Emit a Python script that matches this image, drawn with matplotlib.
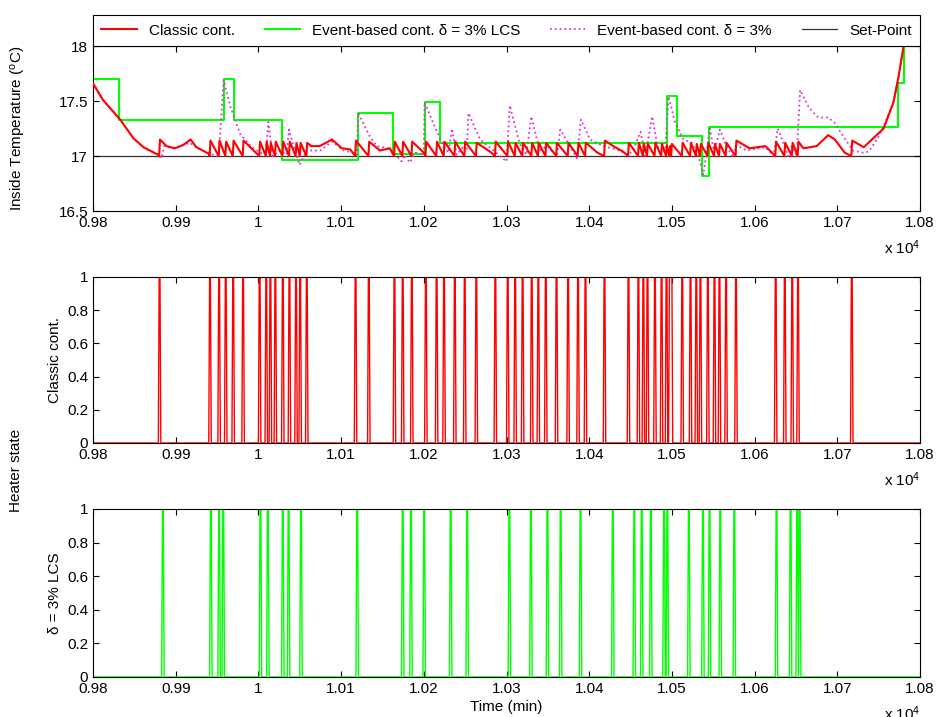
import numpy as np
import matplotlib.pyplot as plt
from matplotlib.ticker import FuncFormatter

plt.rcParams['font.family'] = ['Liberation Sans', 'DejaVu Sans']
plt.rcParams['font.size'] = 11
plt.rcParams['mathtext.default'] = 'regular'

# Simulation window (min) and temperature set-point (degC)
t_start, t_end = 9800, 10800
setpoint = 17.0

# Inside temperature under the classic on/off controller: (time, degC)
classic_temp = [
    (9800, 17.66), (9812, 17.51), (9833, 17.33), (9849, 17.16), (9861, 17.08), (9879, 17.01),
    (9880, 17.00), (9881, 17.15), (9889, 17.09), (9899, 17.07), (9909, 17.10), (9918, 17.15),
    (9925, 17.08), (9940, 17.02), (9941, 17.00), (9942, 17.14),
    (9952, 17.00), (9953, 17.14), (9960, 17.00), (9961, 17.13), (9969, 17.00), (9970, 17.14),
    (9981, 17.00), (9982, 17.14), (10001, 17.00), (10002, 17.13), (10009, 17.00), (10010, 17.13),
    (10014, 17.00), (10015, 17.12), (10020, 17.00), (10021, 17.13), (10029, 17.00), (10030, 17.13),
    (10037, 17.00), (10038, 17.13), (10045, 17.00), (10046, 17.12), (10050, 17.00), (10051, 17.12),
    (10058, 17.00), (10059, 17.12), (10064, 17.09), (10074, 17.09), (10089, 17.15), (10101, 17.07),
    (10111, 17.06), (10117, 17.00), (10118, 17.14), (10133, 17.00), (10134, 17.13), (10147, 17.05),
    (10159, 17.07), (10164, 17.00), (10165, 17.13), (10174, 17.00), (10175, 17.13), (10185, 17.00),
    (10186, 17.13), (10200, 17.03), (10202, 17.00), (10203, 17.13), (10215, 17.00), (10216, 17.13),
    (10224, 17.00), (10225, 17.13), (10237, 17.00), (10238, 17.13), (10249, 17.00), (10250, 17.13),
    (10263, 17.00), (10264, 17.12), (10280, 17.04), (10286, 17.00), (10287, 17.13), (10301, 17.00),
    (10302, 17.13), (10310, 17.00), (10311, 17.12), (10319, 17.00), (10320, 17.12), (10330, 17.00),
    (10331, 17.12), (10338, 17.00), (10339, 17.12), (10347, 17.00), (10348, 17.12), (10360, 17.00),
    (10361, 17.12), (10374, 17.00), (10375, 17.12), (10386, 17.00), (10387, 17.12), (10395, 17.00),
    (10396, 17.12), (10410, 17.03), (10418, 17.00), (10419, 17.14), (10429, 17.09), (10441, 17.04),
    (10447, 17.00), (10448, 17.12), (10459, 17.00), (10460, 17.12), (10465, 17.00), (10466, 17.11),
    (10470, 17.00), (10471, 17.11), (10479, 17.00), (10480, 17.12), (10487, 17.00), (10488, 17.11),
    (10493, 17.00), (10494, 17.10), (10497, 17.00), (10498, 17.09), (10499, 17.00), (10500, 17.11),
    (10512, 17.00), (10513, 17.12), (10522, 17.00), (10523, 17.12), (10529, 17.00), (10530, 17.11),
    (10534, 17.00), (10535, 17.11), (10543, 17.00), (10544, 17.12), (10551, 17.00), (10552, 17.11),
    (10557, 17.00), (10558, 17.11), (10565, 17.00), (10566, 17.12), (10577, 17.00), (10578, 17.14),
    (10594, 17.07), (10613, 17.09), (10625, 17.00), (10626, 17.13), (10636, 17.00), (10637, 17.12),
    (10645, 17.00), (10646, 17.12), (10652, 17.00), (10653, 17.13), (10659, 17.07), (10675, 17.09),
    (10689, 17.19), (10697, 17.15), (10709, 17.03), (10717, 17.00), (10718, 17.14), (10732, 17.08),
    (10756, 17.25), (10768, 17.49), (10774, 17.72), (10780, 17.99), (10790, 18.30),
]

# Event-based controller, delta = 3% (no LCS): (time, degC)
event_temp = [
    (9800, 17.66), (9812, 17.51), (9833, 17.33), (9849, 17.16), (9861, 17.08), (9879, 17.01),
    (9883, 16.98), (9886, 17.09), (9897, 17.07), (9917, 17.12), (9925, 17.08), (9940, 17.02),
    (9952, 17.00), (9958, 17.69), (9966, 17.45), (9978, 17.20), (9992, 17.08), (10002, 17.03),
    (10009, 17.01), (10012, 17.31), (10017, 17.00), (10026, 17.05), (10034, 17.01), (10037, 17.24),
    (10044, 17.05), (10050, 16.92), (10058, 17.05), (10075, 17.05), (10089, 17.13), (10103, 17.05),
    (10115, 17.03), (10119, 17.01), (10121, 17.39), (10133, 17.20), (10143, 17.09), (10157, 17.07),
    (10161, 17.05), (10173, 16.95), (10177, 17.01), (10183, 16.94), (10190, 17.03), (10200, 17.01),
    (10201, 17.49), (10213, 17.27), (10224, 17.09), (10230, 17.03), (10234, 17.25), (10240, 17.01),
    (10248, 17.09), (10252, 17.05), (10254, 17.39), (10268, 17.15), (10286, 17.04), (10300, 16.95),
    (10304, 17.46), (10316, 17.11), (10324, 17.01), (10330, 17.36), (10340, 17.05), (10349, 17.09),
    (10361, 17.00), (10365, 17.24), (10375, 17.11), (10385, 16.98), (10390, 17.33), (10401, 17.15),
    (10417, 17.09), (10437, 17.05), (10447, 17.01), (10453, 17.05), (10462, 17.22), (10468, 17.00),
    (10476, 17.36), (10484, 17.04), (10492, 17.05), (10496, 17.54), (10504, 17.30), (10514, 17.15),
    (10524, 17.12), (10532, 17.00), (10538, 16.83), (10542, 17.03), (10546, 17.25), (10551, 17.03),
    (10558, 17.24), (10566, 17.09), (10574, 16.99), (10578, 17.10), (10590, 17.05), (10613, 17.08),
    (10623, 17.00), (10628, 17.25), (10641, 17.00), (10645, 17.09), (10651, 17.00), (10655, 17.60),
    (10665, 17.45), (10675, 17.36), (10681, 17.35), (10689, 17.35), (10697, 17.30), (10707, 17.18),
    (10719, 17.05), (10731, 17.03), (10738, 17.04), (10748, 17.15), (10756, 17.27), (10768, 17.49),
    (10774, 17.72), (10780, 17.99), (10790, 18.30),
]

# Event-based with LCS: piecewise constant sensed temperature
lcs_t = [9800, 9832, 9958, 9970, 10028, 10121, 10163, 10202, 10220, 10494, 10506,
         10536, 10545, 10773, 10781, 10800]
lcs_temp = [17.70, 17.33, 17.70, 17.33, 16.96, 17.39, 17.02, 17.49, 17.12, 17.55, 17.18,
            16.82, 17.26, 17.66, 18.20, 18.20]

# Heater switch-on instants (min)
classic_on = [9880, 9941, 9952, 9960, 9969, 9981, 10001, 10009, 10014, 10020, 10029, 10037,
              10045, 10050, 10058, 10117, 10133, 10164, 10174, 10185, 10202, 10215, 10224,
              10237, 10249, 10263, 10286, 10301, 10310, 10319, 10330, 10338, 10347, 10360,
              10374, 10386, 10395, 10418, 10447, 10459, 10465, 10470, 10479, 10487, 10493,
              10497, 10499, 10512, 10522, 10529, 10534, 10543, 10551, 10557, 10565, 10577,
              10625, 10636, 10645, 10652, 10717]
lcs_on = [9884, 9942, 9952, 9957, 10002, 10011, 10029, 10036, 10051, 10119, 10174, 10184,
          10200, 10232, 10252, 10303, 10329, 10349, 10365, 10389, 10428, 10454, 10463,
          10474, 10490, 10494, 10520, 10537, 10545, 10558, 10575, 10626, 10643, 10651, 10654]
pulse_len = 2  # min


def heater_state(onsets):
    # 0/1 heater signal sampled every minute
    t = np.arange(t_start, t_end + 1)
    s = np.zeros(t.size)
    for p in onsets:
        s[(t >= p) & (t < p + pulse_len)] = 1
    return t, s


def setup_axis(ax):
    ax.set_xlim(t_start, t_end)
    ax.set_xticks(np.arange(t_start, t_end + 1, 100))
    ax.xaxis.set_major_formatter(FuncFormatter(lambda v, pos: "%g" % (v / 1e4)))
    ax.tick_params(direction='in', top=True, right=True, length=4, width=0.8, labelsize=11)
    for s in ax.spines.values():
        s.set_linewidth(0.8)
    ax.text(1.0, -37.0 / ax.bbox.height, 'x 10$^4$', transform=ax.transAxes,
            ha='right', va='center', fontsize=11)


fig = plt.figure(figsize=(9.36, 7.17), dpi=100)
W, H = 936.0, 717.0
left, width = 93 / W, 827 / W
ax1 = fig.add_axes([left, 1 - 211 / H, width, 165 / H])
ax2 = fig.add_axes([left, 1 - 443 / H, width, 166 / H])
ax3 = fig.add_axes([left, 1 - 677 / H, width, 168 / H])

# Temperatures
ct = np.array(classic_temp)
et = np.array(event_temp)
l_sp, = ax1.plot([t_start, t_end], [setpoint, setpoint], color='#333333', lw=0.9, zorder=1)
l_lcs, = ax1.step(lcs_t, lcs_temp, where='post', color='#00ff00', lw=1.5, zorder=2)
l_ev, = ax1.plot(et[:, 0], et[:, 1], ':', color='#dd33dd', lw=1.3, zorder=3)
l_cl, = ax1.plot(ct[:, 0], ct[:, 1], color='#ff0000', lw=1.5, zorder=4)
ax1.set_ylim(16.5, 18)
ax1.set_yticks([16.5, 17, 17.5, 18])
ax1.set_yticklabels(['16.5', '17', '17.5', '18'])
ax1.set_ylabel('Inside Temperature ($^o$C)')
ax1.yaxis.set_label_coords(-0.079, 0.5)
setup_axis(ax1)

fig.legend([l_cl, l_lcs, l_ev, l_sp],
           ['Classic cont.', 'Event-based cont. δ = 3% LCS',
            'Event-based cont. δ = 3%', 'Set-Point'],
           loc='lower left', bbox_to_anchor=(left, 1 - 46 / H, width, 34 / H),
           mode='expand', ncol=4, borderaxespad=0, fancybox=False, edgecolor='k',
           framealpha=1, handlelength=2.3, borderpad=0.55, fontsize=11)
fig.legends[0].get_frame().set_linewidth(0.8)

# Heater state, classic controller
t, s = heater_state(classic_on)
ax2.plot(t, s, color='#ff0000', lw=1.0)
ax2.set_ylim(0, 1)
ax2.set_yticks(np.arange(0, 1.01, 0.2))
ax2.set_yticklabels(['0', '0.2', '0.4', '0.6', '0.8', '1'])
ax2.set_ylabel('Classic cont.')
ax2.yaxis.set_label_coords(-0.037, 0.5)
setup_axis(ax2)

# Heater state, event-based with LCS
t, s = heater_state(lcs_on)
ax3.plot(t, s, color='#00ff00', lw=1.0)
ax3.set_ylim(0, 1)
ax3.set_yticks(np.arange(0, 1.01, 0.2))
ax3.set_yticklabels(['0', '0.2', '0.4', '0.6', '0.8', '1'])
ax3.set_ylabel('δ = 3% LCS')
ax3.yaxis.set_label_coords(-0.037, 0.5)
ax3.set_xlabel('Time (min)')
ax3.xaxis.set_label_coords(0.5, -0.135)
setup_axis(ax3)

fig.text(16 / W, 1 - 470 / H, 'Heater state', rotation=90, ha='center', va='center')

fig.savefig('out.png', dpi=100)
